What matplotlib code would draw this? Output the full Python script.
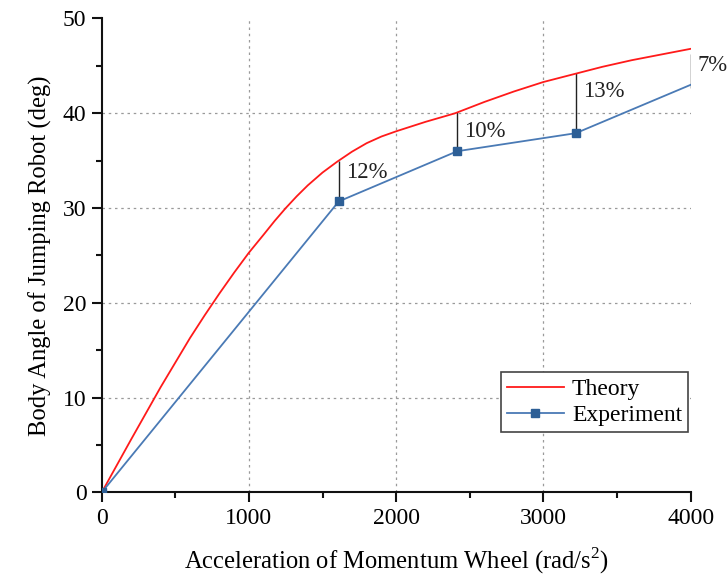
import matplotlib
matplotlib.use("Agg")
import matplotlib.pyplot as plt

# Theory curve
theory_x = [0, 200, 400, 600, 700, 800, 900, 1000, 1100, 1175, 1250, 1325,
            1400, 1500, 1600, 1700, 1800, 1900, 2000, 2100, 2200, 2300, 2400,
            2600, 2800, 3000, 3200, 3400, 3600, 3800, 4000]
theory_y = [0, 5.6, 11.1, 16.3, 18.7, 21.0, 23.2, 25.3, 27.2, 28.65, 30.0, 31.25,
            32.4, 33.75, 34.9, 35.95, 36.85, 37.55, 38.1, 38.6, 39.1, 39.55, 40.0,
            41.2, 42.3, 43.3, 44.1, 44.9, 45.6, 46.2, 46.8]

# Experiment
exp_x = [0, 1610, 2415, 3220, 4000]
exp_y = [0, 30.7, 36.0, 37.9, 43.0]

# Error annotations
ann_x = [1610, 2415, 3220, 4000]
ann_top = [35.0, 40.1, 44.2, 46.3]
ann_bottom = [30.7, 36.0, 37.9, 42.7]
ann_text_y = [33.8, 38.1, 42.3, 45.0]
ann_labels = ["12%", "10%", "13%", "7%"]

plt.rcParams['font.family'] = ['Liberation Serif', 'DejaVu Serif']
plt.rcParams['mathtext.fontset'] = 'custom'
plt.rcParams['mathtext.rm'] = 'Liberation Serif'

fig = plt.figure(figsize=(7.27, 5.78), dpi=100)
ax = fig.add_axes([0.1399, 0.148, 0.810, 0.820])

# grid
for gx in [1000, 2000, 3000]:
    ax.axvline(gx, color='#9a9a9a', lw=0.9, ls=(0, (2, 3)), zorder=0)
for gy in [10, 20, 30, 40]:
    ax.axhline(gy, color='#9a9a9a', lw=0.9, ls=(0, (2, 3)), zorder=0)

ax.plot(theory_x, theory_y, color='#ff1a1a', lw=1.3, label='Theory', zorder=3)
ax.plot(exp_x, exp_y, color='#4a7ab5', lw=1.3, marker='s', markersize=6,
        markerfacecolor='#2d5f96', markeredgecolor='#2d5f96',
        markevery=[0, 1, 2, 3], label='Experiment', zorder=3)

ax.vlines(ann_x, ann_bottom, ann_top, color='#222222', lw=1.0, zorder=2)
for x, y, t in zip(ann_x, ann_text_y, ann_labels):
    ax.annotate(t, (x, y), xytext=(5, 0), textcoords='offset points',
                ha='left', va='center', fontsize=16.3, color='#222222')

ax.set_xlim(0, 4000)
ax.set_ylim(0, 50)
ax.set_xticks([0, 1000, 2000, 3000, 4000])
ax.set_xticks([500, 1500, 2500, 3500], minor=True)
ax.set_yticks([0, 10, 20, 30, 40, 50])
ax.set_yticks([5, 15, 25, 35, 45], minor=True)

for s in ['top', 'right']:
    ax.spines[s].set_visible(False)
for s in ['left', 'bottom']:
    ax.spines[s].set_linewidth(1.5)
    ax.spines[s].set_color('#111111')

ax.tick_params(which='major', direction='out', length=7, width=1.5,
               labelsize=17, pad=4, color='#111111')
ax.tick_params(which='minor', direction='out', length=4, width=1.5,
               color='#111111')

ax.set_xlabel('Acceleration of Momentum Wheel (rad/s$^2$)', fontsize=17.7,
              labelpad=12)
ax.set_ylabel('Body Angle of Jumping Robot (deg)', fontsize=17.7, labelpad=8)

leg = ax.legend(loc='lower right', bbox_to_anchor=(0.9464, 0.2526),
                bbox_transform=fig.transFigure, borderaxespad=0,
                fancybox=False, edgecolor='#444444', fontsize=17,
                handlelength=2.4, handletextpad=0.35, labelspacing=0.2,
                borderpad=0.25, framealpha=1)
leg.get_frame().set_linewidth(1.2)

fig.savefig('out.png', dpi=100)
